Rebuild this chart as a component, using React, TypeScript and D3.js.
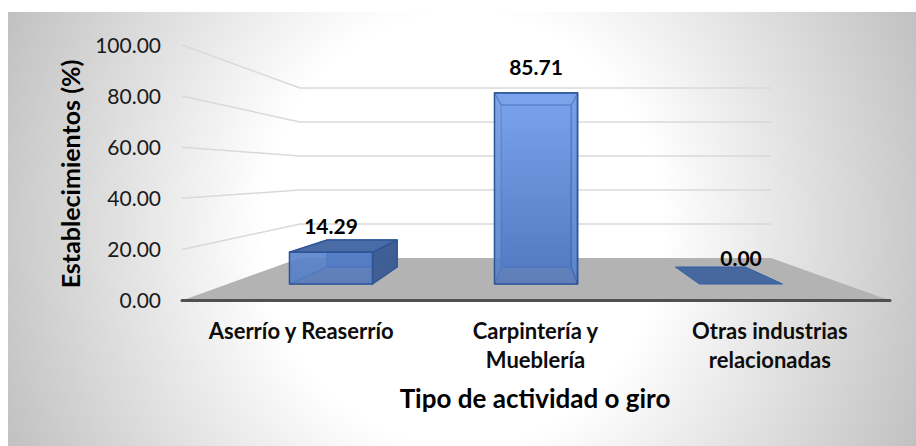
import React from "react";
import * as d3 from "d3";

const categories = ["Aserrío y Reaserrío", "Carpintería y|Mueblería", "Otras industrias|relacionadas"];
const values = [14.29, 85.71, 0];
const yTicks = [0, 20, 40, 60, 80, 100];
const yTitle = "Establecimientos (%)";
const xTitle = "Tipo de actividad o giro";

const font = "Lato, Carlito, Calibri, sans-serif";
const fmt = d3.format(".2f");

// the 3d look is just two planes of scales: front edge and back wall
const yAxisScale = d3.scaleLinear().domain([0, 100]).range([300.5, 45]);
const yWall = d3.scaleLinear().domain([0, 100]).range([258, 88]);
const xLabels = d3.scaleBand().domain(categories).range([184, 887]);

// bars sit on the floor, between these two planes
const yBarFront = d3.scaleLinear().domain([0, 100]).range([284, 61.2]);
const yBarBack = d3.scaleLinear().domain([0, 100]).range([267, 78]);
const xBarFront = d3.scaleBand().domain(categories).range([228.5, 843.5]).paddingInner(0.595).paddingOuter(0.2975);
const xBarBack = d3.scaleBand().domain(categories).range([275, 797.5]).paddingInner(0.598).paddingOuter(0.299);

const wallLeft = 300;
const wallRight = 771;
const floorLeft = 182;
const floorRight = 890;

const pts = (p: number[][]) => p.map((d) => d.join(",")).join(" ");

function Bar({ cat, value }: { cat: string; value: number }) {
  const fx0 = xBarFront(cat)!;
  const fx1 = fx0 + xBarFront.bandwidth();
  const bx0 = xBarBack(cat)!;
  const bx1 = bx0 + xBarBack.bandwidth();
  const ft = yBarFront(value);
  const fb = yBarFront(0);
  const bt = yBarBack(value);
  const bb = yBarBack(0);
  const stroke = "#2f5597";
  if (value === 0) {
    return (
      <polygon points={pts([[fx0, fb], [fx1, fb], [bx1, bb], [bx0, bb]])} fill="#47689f" stroke="#2f5fa6" strokeWidth={1} />
    );
  }
  return (
    <g strokeLinejoin="round">
      <rect x={bx0} y={bt} width={bx1 - bx0} height={bb - bt} fill="url(#barFace)" stroke="#4a73b8" strokeWidth={1.5} />
      <polygon points={pts([[fx0, fb], [fx1, fb], [bx1, bb], [bx0, bb]])} fill="#4a6ca8" fillOpacity={0.6} stroke="#4a73b8" strokeWidth={1} />
      <polygon points={pts([[fx0, ft], [bx0, bt], [bx0, bb], [fx0, fb]])} fill="#5e88d2" fillOpacity={0.75} stroke="#4a73b8" strokeWidth={1} />
      <polygon points={pts([[fx1, ft], [bx1, bt], [bx1, bb], [fx1, fb]])} fill={bx1 > fx1 ? "#3e5d92" : "#6d96de"} fillOpacity={0.95} stroke={stroke} strokeWidth={1.5} />
      <polygon points={pts([[fx0, ft], [fx1, ft], [bx1, bt], [bx0, bt]])} fill={bt < ft ? "#4a6ca6" : "#7ba4ec"} stroke={stroke} strokeWidth={1.5} />
      <rect x={fx0} y={ft} width={fx1 - fx0} height={fb - ft} fill="url(#barFace)" fillOpacity={0.6} stroke={stroke} strokeWidth={1.5} />
    </g>
  );
}

export default function App() {
  return (
    <svg width={916} height={446} style={{ position: "absolute", left: 0, top: 0, display: "block" }} fontFamily={font}>
      <defs>
        <radialGradient id="panel" gradientUnits="userSpaceOnUse" cx={0} cy={0} r={1} gradientTransform="translate(462,229) scale(500,540)">
          <stop offset="0.4" stopColor="#ffffff" />
          <stop offset="1" stopColor="#c0c0c0" />
        </radialGradient>
        <linearGradient id="barFace" gradientUnits="userSpaceOnUse" x1={0} x2={0} y1={93} y2={284}>
          <stop offset="0" stopColor="#7ba4ee" />
          <stop offset="1" stopColor="#4f78c0" />
        </linearGradient>
      </defs>
      <rect x={8} y={12} width={908} height={434} fill="url(#panel)" />

      <polygon
        points={pts([[floorLeft, yAxisScale(0)], [wallLeft, yWall(0)], [wallRight, yWall(0)], [floorRight, yAxisScale(0)]])}
        fill="#b3b3b3"
      />

      {yTicks.filter((t) => t > 0).map((t) => (
        <polyline
          key={t}
          points={pts([[floorLeft, yAxisScale(t)], [wallLeft, yWall(t)], [wallRight, yWall(t)]])}
          fill="none"
          stroke="#d9d9d9"
          strokeWidth={1.5}
        />
      ))}

      {categories.map((c, i) => (
        <Bar key={c} cat={c} value={values[i]} />
      ))}

      <line x1={floorLeft} x2={floorRight} y1={yAxisScale(0)} y2={yAxisScale(0)} stroke="#505050" strokeWidth={3} strokeLinecap="round" />

      {yTicks.map((t) => (
        <text key={t} x={161} y={yAxisScale(t) + 7.5} textAnchor="end" fontSize={21} fill="#1a1a1a">
          {fmt(t)}
        </text>
      ))}

      {categories.map((c, i) => (
        <text key={c} x={xBarFront(c)! + xBarFront.bandwidth() / 2} y={yBarFront(values[i]) - 18} textAnchor="middle" fontSize={21} fontWeight={700} fill="#000">
          {fmt(values[i])}
        </text>
      ))}

      {categories.map((c) => (
        <text key={c} textAnchor="middle" fontSize={22} fontWeight={700} fill="#0d0d0d">
          {c.split("|").map((line, j) => (
            <tspan key={j} x={xLabels(c)! + xLabels.bandwidth() / 2} y={339 + j * 29}>
              {line}
            </tspan>
          ))}
        </text>
      ))}

      <text x={535} y={408} textAnchor="middle" fontSize={26} fontWeight={700} fill="#000">
        {xTitle}
      </text>
      <text transform="translate(80,174) rotate(-90)" textAnchor="middle" fontSize={25} fontWeight={700} fill="#000">
        {yTitle}
      </text>
    </svg>
  );
}
